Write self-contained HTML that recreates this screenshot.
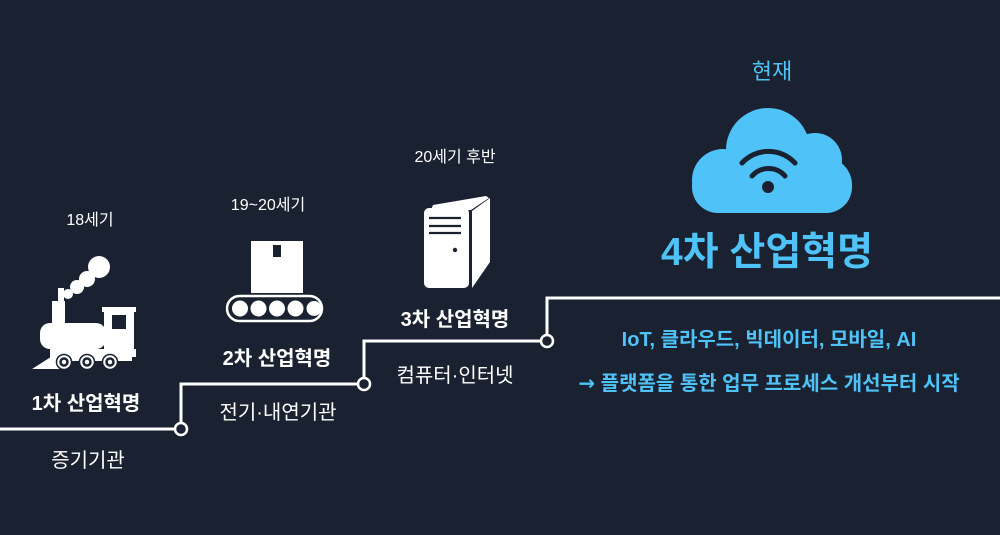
<!DOCTYPE html>
<html><head><meta charset="utf-8"><style>
html,body{margin:0;padding:0;}
body{width:1000px;height:535px;background:#1a2231;position:relative;overflow:hidden;font-family:"Liberation Sans","Noto Sans CJK KR",sans-serif;color:#fff;}
.t{position:absolute;white-space:nowrap;transform:translateX(-50%);line-height:1;}
.s{font-size:16px;}
.m{font-size:20px;font-weight:bold;}
.n{font-size:20px;}
.b{color:#4fc3f7;}
svg{position:absolute;left:0;top:0;}
</style></head><body>
<svg width="1000" height="535" viewBox="0 0 1000 535">
<g fill="none" stroke="#fff" stroke-width="3">
<polyline points="0,429 174,429"/>
<polyline points="181,422 181,384 358,384"/>
<polyline points="364,377 364,341 540,341"/>
<polyline points="547,335 547,298 1000,298"/>
</g>
<g fill="#1a2231" stroke="#fff" stroke-width="2.5">
<circle cx="181" cy="429" r="6"/>
<circle cx="364" cy="384" r="6"/>
<circle cx="547" cy="341" r="6"/>
</g>
<g fill="#fff">
<circle cx="99" cy="267" r="11"/>
<circle cx="87" cy="279" r="8"/>
<circle cx="77" cy="287" r="7"/>
<circle cx="68" cy="294" r="5"/>
<rect x="58" y="288" width="6" height="14"/>
<rect x="52" y="301" width="13" height="22"/>
<rect x="40" y="323" width="66" height="26" rx="10"/>
<rect x="104" y="312" width="30" height="40"/>
<rect x="102" y="307" width="34" height="5"/>
<rect x="50" y="349" width="86" height="8"/>
<polygon points="32,369 54,355 60,369"/>
<rect x="50" y="355" width="82" height="6"/>
</g>
<rect x="112" y="315" width="14" height="14" fill="#1a2231"/>
<g fill="#fff" stroke="#1a2231" stroke-width="1.5">
<circle cx="64" cy="362" r="7.5"/><circle cx="87" cy="362" r="7.5"/><circle cx="110" cy="362" r="7.5"/>
</g>
<g fill="none" stroke="#1a2231" stroke-width="2.5">
<circle cx="64" cy="362" r="3.5"/><circle cx="87" cy="362" r="3.5"/><circle cx="110" cy="362" r="3.5"/>
</g>
<rect x="251" y="241" width="52" height="52" fill="#fff"/>
<rect x="273" y="245" width="8" height="12" fill="#1a2231"/>
<rect x="227" y="296" width="95" height="25" rx="12.5" fill="none" stroke="#fff" stroke-width="2.5"/>
<g fill="#fff">
<circle cx="240" cy="308.5" r="8"/><circle cx="258.5" cy="308.5" r="8"/><circle cx="277" cy="308.5" r="8"/><circle cx="295.5" cy="308.5" r="8"/><circle cx="314" cy="308.5" r="7.5"/>
</g>
<polygon points="433,205 486,196 489,198 471,210 430,212" fill="#fff"/>
<polygon points="472,211 490,198 490,262 472,288" fill="#fff"/>
<rect x="424" y="208" width="45" height="80" rx="5" fill="#fff"/>
<g stroke="#1a2231" stroke-width="2.2">
<line x1="429" y1="218" x2="461" y2="218"/><line x1="429" y1="226" x2="461" y2="226"/><line x1="429" y1="233" x2="461" y2="233"/>
</g>
<circle cx="455" cy="250" r="2.2" fill="#1a2231"/>
<g fill="#4fc3f7">
<circle cx="768" cy="150" r="42"/>
<circle cx="815" cy="160" r="27"/>
<circle cx="723" cy="180" r="31"/>
<circle cx="824" cy="185" r="28"/>
<rect x="692" y="160" width="160" height="53" rx="26"/>
</g>
<g fill="none" stroke="#1a2231" stroke-width="5" stroke-linecap="round">
<path d="M742,163 A36,36 0 0 1 795,163"/>
<path d="M752,176 A22,22 0 0 1 785,176"/>
</g>
<circle cx="768" cy="187" r="6" fill="#1a2231"/>
</svg>
<div class="t s" style="left:90px;top:213px;">18세기</div>
<div class="t m" style="left:86px;top:394px;">1차 산업혁명</div>
<div class="t n" style="left:88px;top:451px;">증기기관</div>
<div class="t s" style="left:268px;top:198px;">19~20세기</div>
<div class="t m" style="left:277px;top:349px;">2차 산업혁명</div>
<div class="t n" style="left:278px;top:403px;">전기·내연기관</div>
<div class="t s" style="left:455px;top:150px;">20세기 후반</div>
<div class="t m" style="left:455px;top:310px;">3차 산업혁명</div>
<div class="t n" style="left:455px;top:366px;">컴퓨터·인터넷</div>
<div class="t b" style="left:772px;top:61px;font-size:22px;">현재</div>
<div class="t b" style="left:767px;top:233px;font-size:39px;font-weight:bold;">4차 산업혁명</div>
<div class="t b" style="left:769px;top:330px;font-size:20px;font-weight:bold;letter-spacing:0px;">IoT, 클라우드, 빅데이터, 모바일, AI</div>
<div class="t b" style="left:769px;top:373px;font-size:20px;font-weight:bold;letter-spacing:0px;"><span style="font-family:'DejaVu Sans',sans-serif;">→</span> 플랫폼을 통한 업무 프로세스 개선부터 시작</div>
</body></html>
